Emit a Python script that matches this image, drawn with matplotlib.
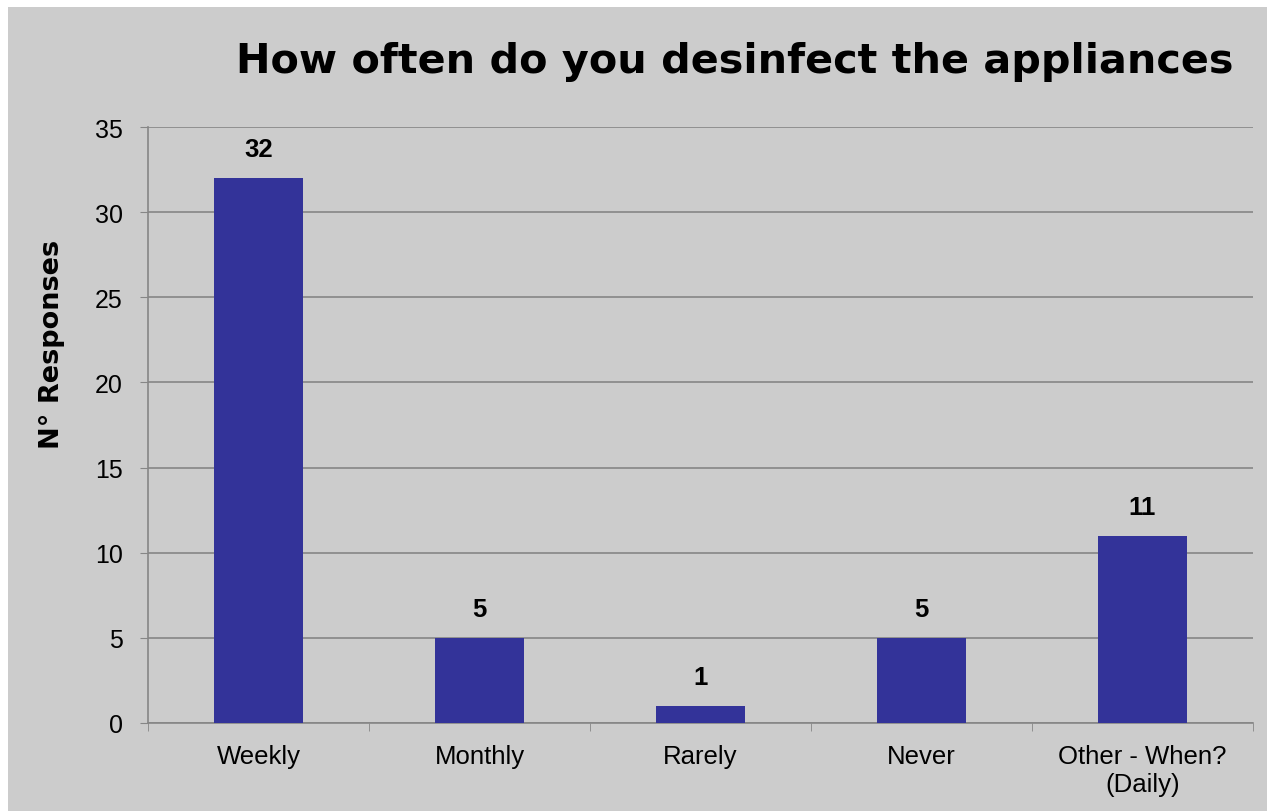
import matplotlib
matplotlib.use("Agg")
import matplotlib.pyplot as plt
from matplotlib.patches import Rectangle

categories = ["Weekly", "Monthly", "Rarely", "Never", "Other - When?\n(Daily)"]
responses = [32, 5, 1, 5, 11]
yticks = [0, 5, 10, 15, 20, 25, 30, 35]

bg = "#cccccc"
bar_color = "#333399"
grid_color = "#868686"

fig = plt.figure(figsize=(12.67, 8.12), dpi=100)
fig.patch.set_facecolor("white")
# gray chart area with thin white margin on top/left
fig.patches.append(Rectangle((8 / 1267, 0), 1 - 8 / 1267, 1 - 8 / 812,
                             transform=fig.transFigure, facecolor=bg,
                             edgecolor="none", zorder=-10))

ax = fig.add_axes([148 / 1267, 88 / 812, (1253 - 148) / 1267, (724 - 128) / 812])
ax.set_facecolor(bg)

x = list(range(len(categories)))
ax.bar(x, responses, width=0.4, color=bar_color, zorder=3)

for xi, v in zip(x, responses):
    ax.text(xi, v + 1.0, str(v), ha="center", va="bottom", fontsize=18.5,
            fontweight="bold", family="Liberation Sans")

ax.set_xlim(-0.5, len(categories) - 0.5)
ax.set_ylim(0, 35)
ax.set_yticks(yticks)
ax.set_yticklabels([str(t) for t in yticks], fontsize=18, family="Liberation Sans")
ax.set_xticks(x)
ax.set_xticklabels(categories, fontsize=18.5, family="Liberation Sans", linespacing=1.2)
ax.set_xticks([i - 0.5 for i in range(len(categories) + 1)], minor=True)
ax.tick_params(axis="x", which="major", length=0, pad=15)
ax.tick_params(axis="x", which="minor", length=6, color=grid_color, direction="out")
ax.tick_params(axis="y", length=6, color=grid_color, direction="out", pad=12)

ax.grid(axis="y", color=grid_color, linewidth=1.2, zorder=1)
ax.set_axisbelow(True)
for s in ["top", "right"]:
    ax.spines[s].set_visible(False)
for s in ["left", "bottom"]:
    ax.spines[s].set_color(grid_color)
    ax.spines[s].set_linewidth(1.2)

ax.set_ylabel("N° Responses", fontsize=19.5, fontweight="bold",
              family="DejaVu Sans")
ax.yaxis.set_label_coords((65 - 148) / 1105, (724 - 344) / 596)

fig.text(735 / 1267, 1 - 62 / 812, "How often do you desinfect the appliances",
         ha="center", va="center", fontsize=29.8, fontweight="bold",
         family="DejaVu Sans")

plt.savefig("out.png", dpi=100, facecolor=fig.get_facecolor())
plt.close()
